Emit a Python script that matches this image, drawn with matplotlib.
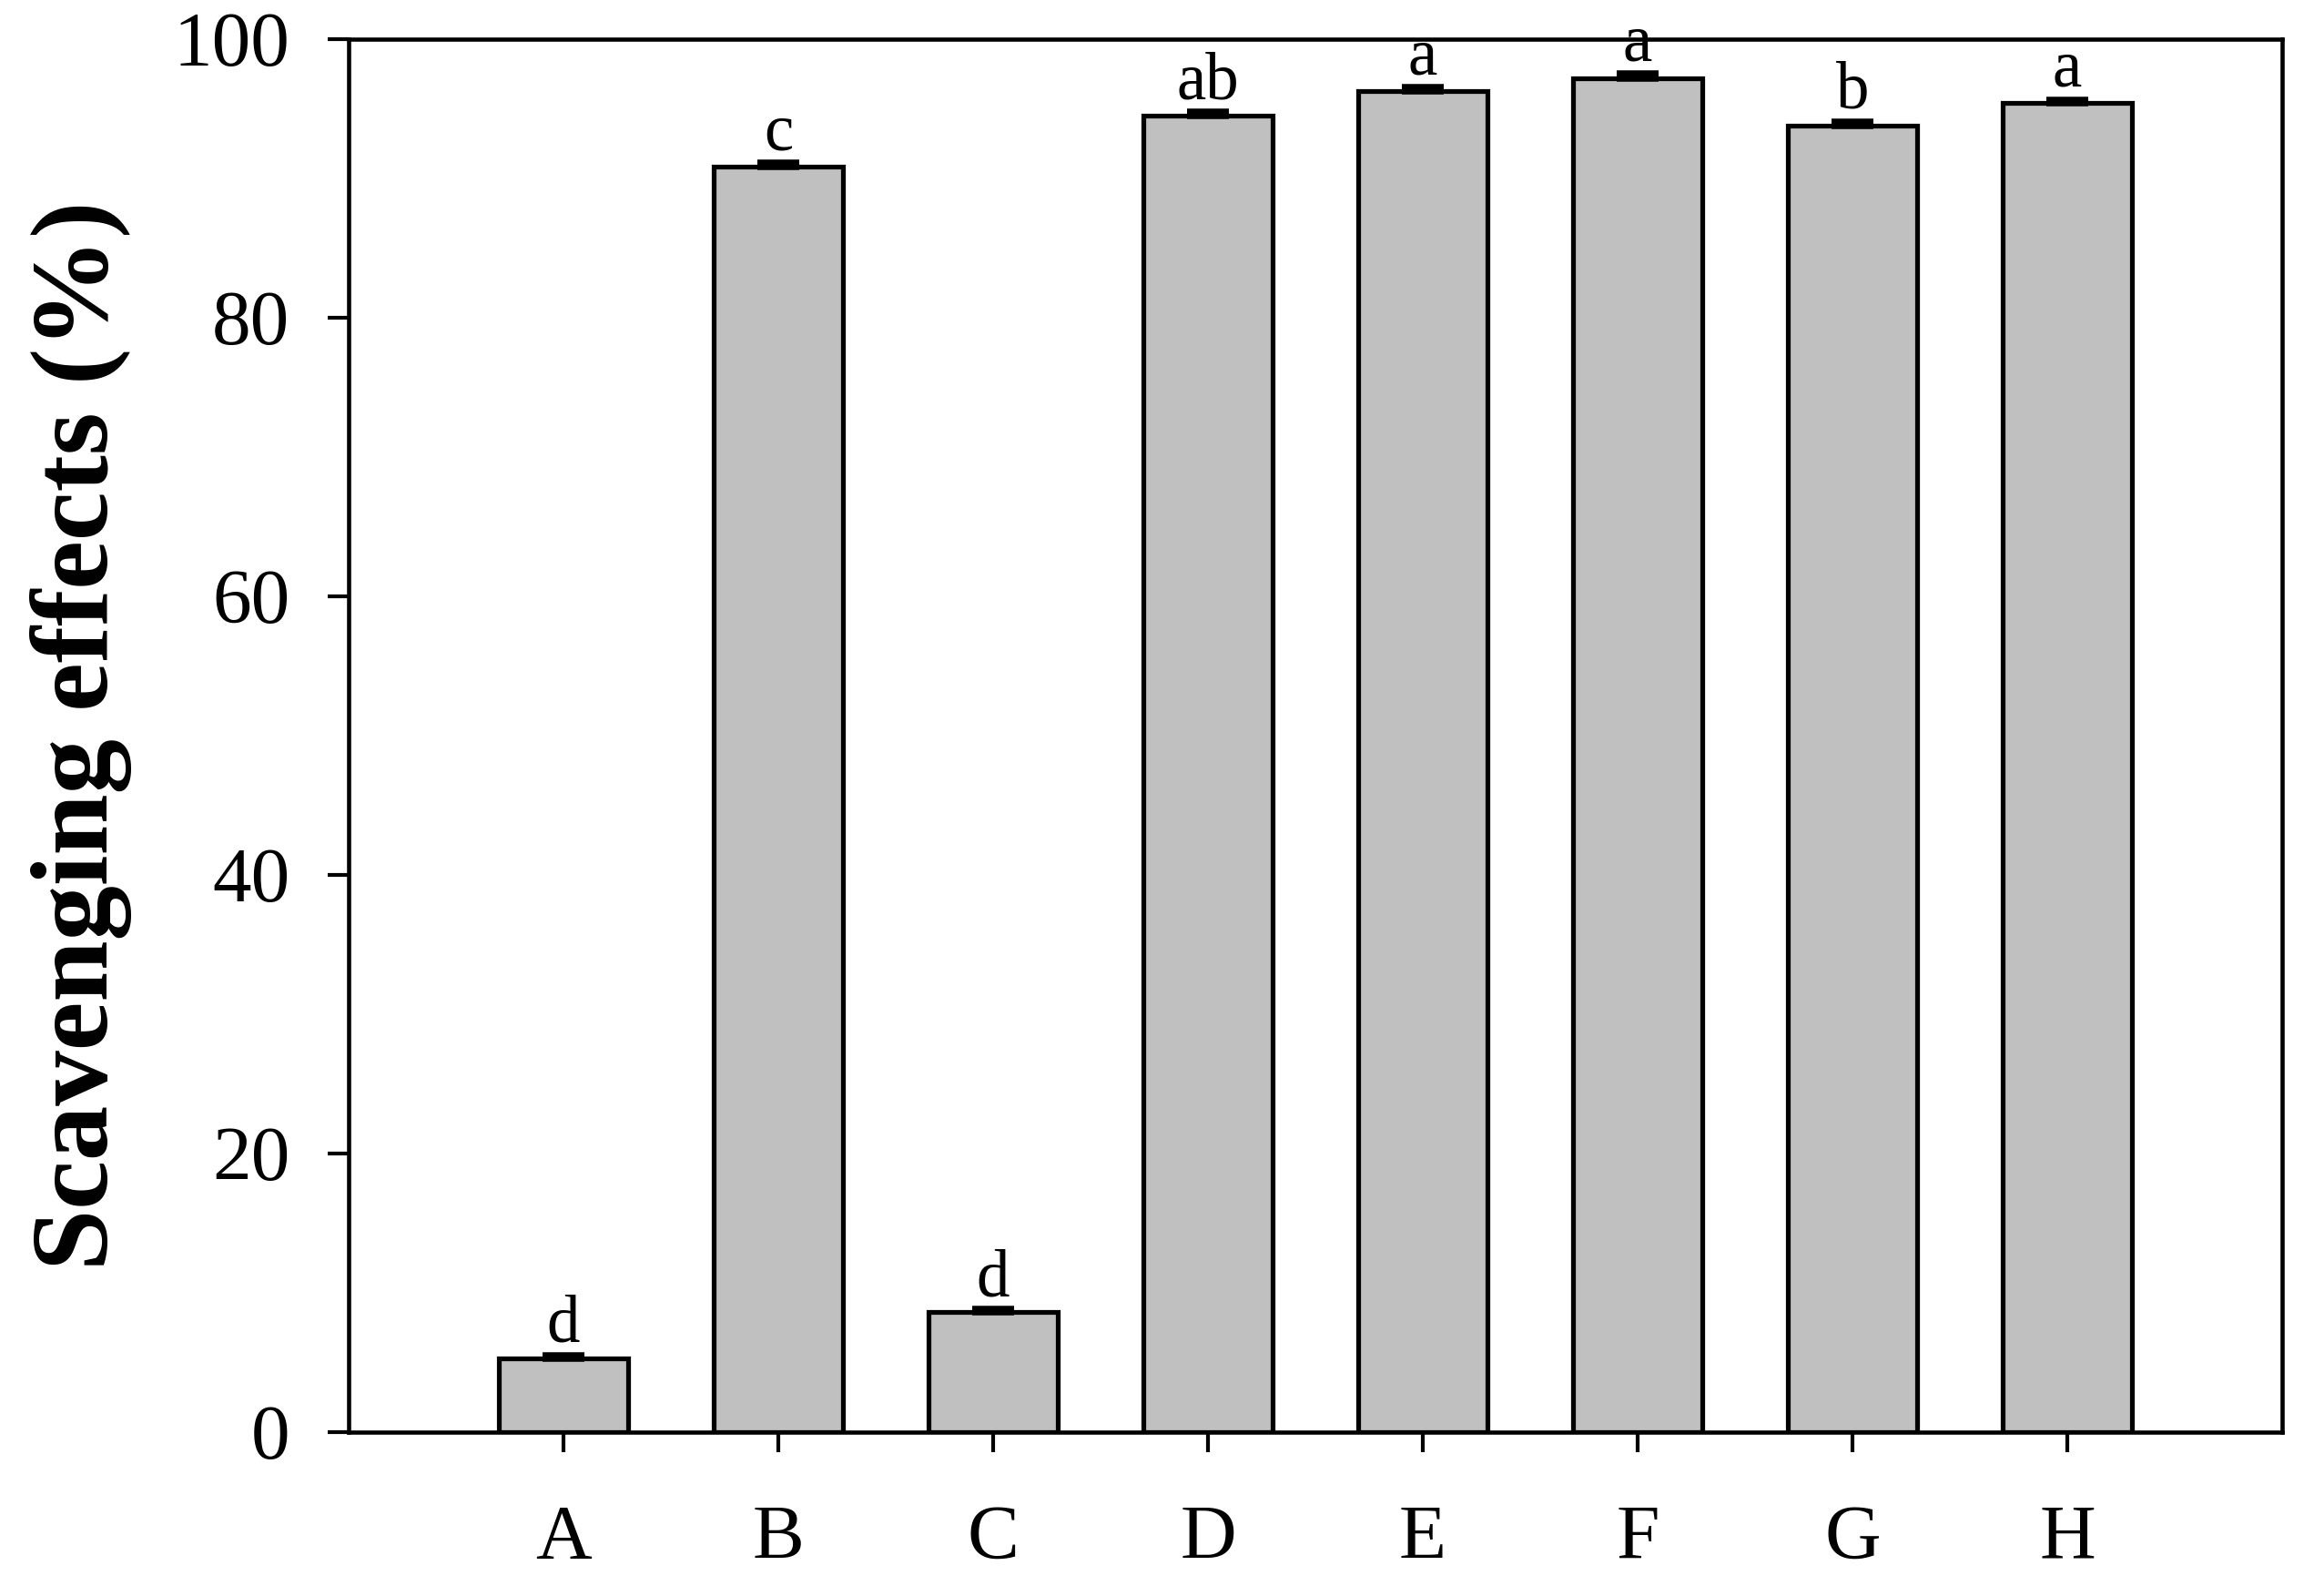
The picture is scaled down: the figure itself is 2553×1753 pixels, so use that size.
import matplotlib
matplotlib.use("Agg")
import matplotlib.pyplot as plt

categories = ["A", "B", "C", "D", "E", "F", "G", "H"]
values = [5.3, 90.85, 8.6, 94.5, 96.3, 97.2, 93.8, 95.4]
errors = [0.2, 0.25, 0.2, 0.25, 0.2, 0.3, 0.25, 0.25]
letters = ["d", "c", "d", "ab", "a", "a", "b", "a"]
yticks = [0, 20, 40, 60, 80, 100]

plt.rcParams['font.family'] = ['Liberation Serif', 'DejaVu Serif']

fig = plt.figure(figsize=(2553 / 300, 1753 / 300), dpi=300)
ax = fig.add_axes([0.150, 0.1027, 0.982 - 0.150, 0.9755 - 0.1027])

pos = list(range(1, len(categories) + 1))
ax.bar(pos, values, width=0.6, color="#c0c0c0", edgecolor="black", linewidth=1.25, zorder=2)
ax.errorbar(pos, values, yerr=[[0] * len(errors), errors], fmt="none", ecolor="black",
            elinewidth=1.2, capsize=5.6, capthick=1.8, zorder=3)

for x, v, e, t in zip(pos, values, errors, letters):
    ax.annotate(t, (x, v + e), xytext=(0, 3.6), textcoords="offset points",
                ha="center", va="baseline", fontsize=17.5, annotation_clip=False)

ax.set_xlim(0, 9)
ax.set_ylim(0, 100)
ax.set_xticks(pos)
ax.set_xticklabels(categories)
ax.set_yticks(yticks)
ax.set_yticklabels([str(t) for t in yticks])
ax.tick_params(axis="x", direction="out", length=5.2, width=1.0, labelsize=20.5, pad=14)
ax.tick_params(axis="y", direction="out", length=5.5, width=1.0, labelsize=20.5, pad=10)
for s in ax.spines.values():
    s.set_linewidth(1.1)

fig.text(0.035, 0.539, "Scavenging effects (%)", rotation=90, ha="center", va="center",
         fontsize=29, fontweight="bold")

fig.savefig("out.png", dpi=300)
